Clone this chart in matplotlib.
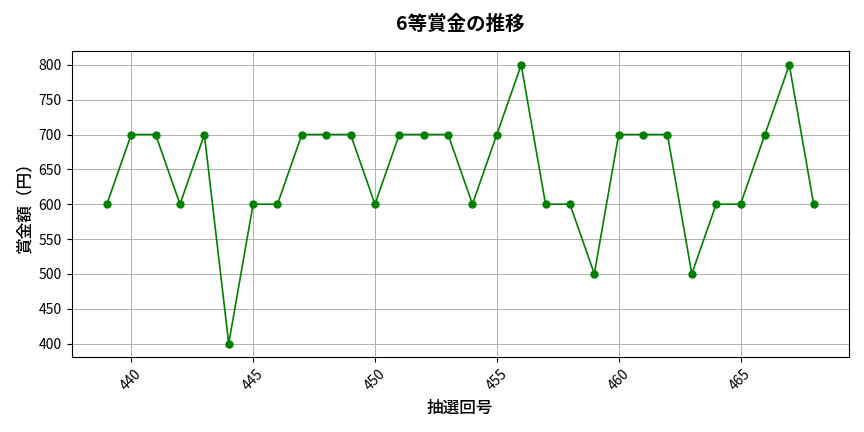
import matplotlib
matplotlib.use("Agg")
import matplotlib.pyplot as plt

plt.rcParams['font.family'] = ['Noto Sans CJK JP', 'DejaVu Sans']

# draw numbers and 6th prize amounts (yen)
draws = list(range(439, 469))
prize = [600, 700, 700, 600, 700, 400, 600, 600, 700, 700,
         700, 600, 700, 700, 700, 600, 700, 800, 600, 600,
         500, 700, 700, 700, 500, 600, 600, 700, 800, 600]

fig, ax = plt.subplots(figsize=(8.64, 4.32), dpi=100)
ax.plot(draws, prize, marker="o", color="green", markersize=5, linewidth=1.2)
ax.set_title("6等賞金の推移", fontsize=14, fontweight="bold", pad=15)
ax.set_xlabel("抽選回号", fontsize=12, fontweight="medium")
ax.set_ylabel("賞金額（円）", fontsize=12, fontweight="medium")
ax.grid(True, color="#b0b0b0", linewidth=0.7)
plt.xticks(rotation=45)
ax.tick_params(labelsize=10)
plt.tight_layout()
plt.savefig("out.png")
